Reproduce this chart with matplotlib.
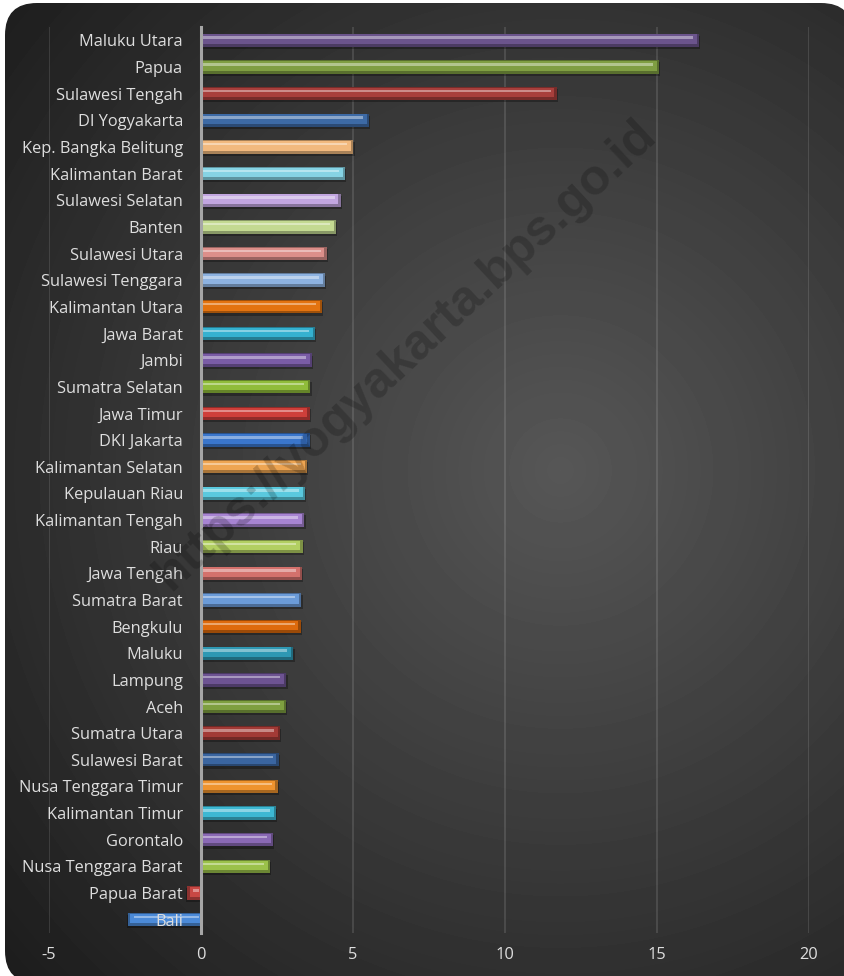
import numpy as np
import matplotlib.pyplot as plt
from matplotlib.patches import FancyBboxPatch
from matplotlib.colors import to_rgb

plt.rcParams['axes.unicode_minus'] = False

provinsi = ["Maluku Utara", "Papua", "Sulawesi Tengah", "DI Yogyakarta",
            "Kep. Bangka Belitung", "Kalimantan Barat", "Sulawesi Selatan", "Banten",
            "Sulawesi Utara", "Sulawesi Tenggara", "Kalimantan Utara", "Jawa Barat",
            "Jambi", "Sumatra Selatan", "Jawa Timur", "DKI Jakarta",
            "Kalimantan Selatan", "Kepulauan Riau", "Kalimantan Tengah", "Riau",
            "Jawa Tengah", "Sumatra Barat", "Bengkulu", "Maluku", "Lampung", "Aceh",
            "Sumatra Utara", "Sulawesi Barat", "Nusa Tenggara Timur", "Kalimantan Timur",
            "Gorontalo", "Nusa Tenggara Barat", "Papua Barat", "Bali"]
nilai = [16.38, 15.07, 11.70, 5.53, 5.01, 4.74, 4.60, 4.44,
         4.14, 4.08, 3.98, 3.75, 3.65, 3.60, 3.57, 3.57,
         3.49, 3.43, 3.40, 3.34, 3.33, 3.30, 3.28, 3.04, 2.81, 2.80,
         2.60, 2.56, 2.53, 2.47, 2.37, 2.27, -0.45, -2.41]
warna = ["#6b548c", "#7f9e42", "#a83f3c", "#3d6aa5",
         "#f2b97e", "#86d3e4", "#c2a6e0", "#c3d991",
         "#dc8f8a", "#8db2e0", "#e3730f", "#35b1d0",
         "#7a5ca6", "#90bc3a", "#cf3f3a", "#3a76cc",
         "#eea552", "#5ac9de", "#a784d2", "#b2cf62",
         "#d4716c", "#6b9bd8", "#de6a0c", "#2e98b3", "#6d5392", "#7e9f40",
         "#a23a36", "#3a65a0", "#ee932e", "#3db8d3",
         "#8a69b5", "#9bc14a", "#c84844", "#4b8ad8"]
xticks = [-5, 0, 5, 10, 15, 20]

W, H = 844, 976
fig = plt.figure(figsize=(W / 100, H / 100), dpi=100)

# dark rounded panel with a soft radial glow
bg = fig.add_axes([0, 0, 1, 1])
bg.set_xlim(0, W)
bg.set_ylim(H, 0)
bg.axis('off')
yy, xx = np.mgrid[0:H, 0:W]
r = np.sqrt(((xx - 560) / 650.0) ** 2 + ((yy - 470) / 660.0) ** 2)
shade = np.clip(0.34 - 0.2 * r, 0.1, 1)
im = bg.imshow(shade, cmap='gray', vmin=0, vmax=1, extent=(0, W, H, 0), aspect='auto')
panel = FancyBboxPatch((5, 3), W + 4, H + 4, boxstyle='round,pad=0,rounding_size=32',
                       fc='none', ec='none', transform=bg.transData)
bg.add_patch(panel)
im.set_clip_path(panel)

fig.text(405 / W, 1 - 355 / H, 'https://yogyakarta.bps.go.id', rotation=43,
         ha='center', va='center', fontsize=36, fontweight='bold',
         family='Liberation Sans', color='black', alpha=0.2)

ax = fig.add_axes([49 / W, 43 / H, 760 / W, 906 / H])
ax.set_facecolor('none')


def mix(c, f):
    c = np.array(to_rgb(c))
    if f >= 0:
        return tuple(c + (1 - c) * f)
    return tuple(c * (1 + f))


pos = np.arange(len(provinsi))
for y, v, c in zip(pos, nilai, warna):
    s = np.sign(v)
    ax.barh(y + 0.08, v, height=0.5, left=0.04 * s, color='black', alpha=0.3, lw=0, zorder=2)
    ax.barh(y, v, height=0.5, color=mix(c, -0.3), lw=0, zorder=3)
    ax.barh(y - 0.04, v - 0.08 * s, height=0.36, color=c, lw=0, zorder=4)
    ax.barh(y - 0.1, v - 0.25 * s, height=0.09, left=0.05 * s, color=mix(c, 0.4), lw=0, zorder=5)

ax.set_xlim(-5, 20)
ax.set_ylim(len(provinsi) - 0.5, -0.5)
ax.set_xticks(xticks)
ax.set_yticks(pos)
ax.set_yticklabels(provinsi)
for sp in ['top', 'right', 'bottom']:
    ax.spines[sp].set_visible(False)
# category axis crosses at zero
ax.spines['left'].set_position(('data', 0))
ax.spines['left'].set_color('#a6a6a6')
ax.spines['left'].set_linewidth(2.2)
ax.spines['left'].set_zorder(6)
ax.xaxis.grid(True, color='white', alpha=0.14, lw=1.2)
ax.set_axisbelow(True)
ax.yaxis.set_zorder(10)
ax.tick_params(axis='both', length=0, colors='#dedede', labelsize=11.8)
ax.tick_params(axis='y', pad=13)
ax.tick_params(axis='x', pad=10)
for t in ax.get_xticklabels() + ax.get_yticklabels():
    t.set_family('Open Sans')

fig.savefig('out.png', dpi=100)
